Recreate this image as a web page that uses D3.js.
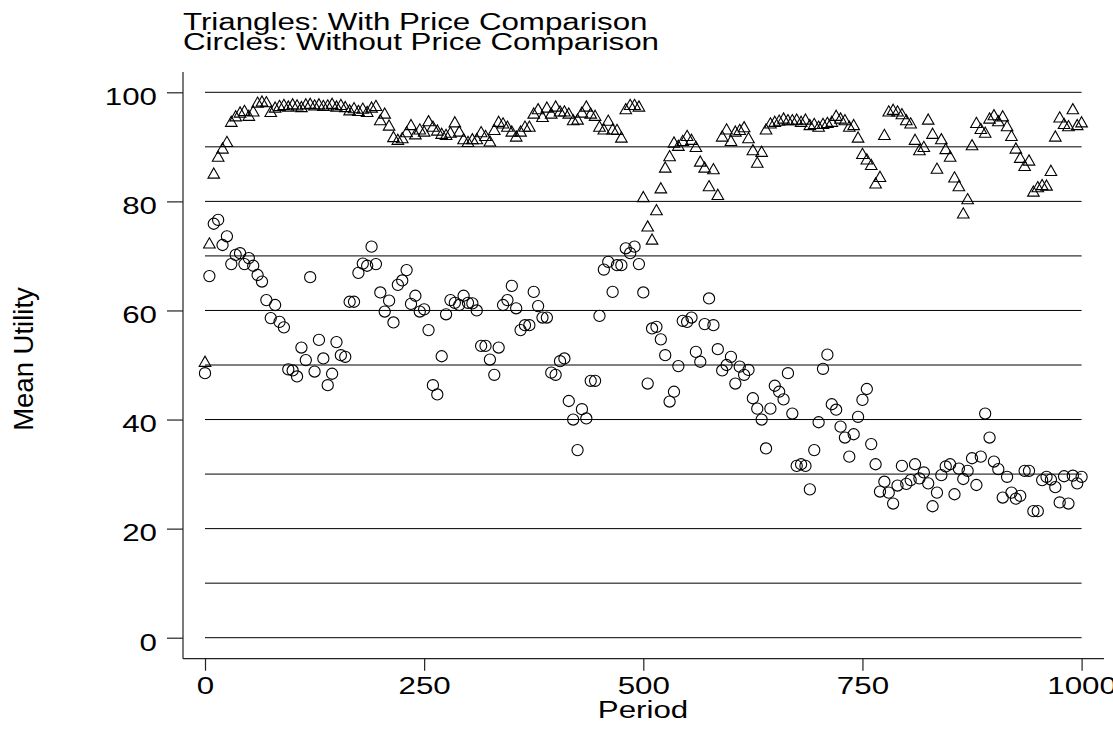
<!DOCTYPE html>
<html>
<head>
<meta charset="utf-8">
<script src="https://cdn.jsdelivr.net/npm/d3@7"></script>
<style>
  body { margin: 0; background: #fff; }
  svg { display: block; font-family: "Liberation Sans", Arial, sans-serif; }
</style>
</head>
<body>
<script>
"use strict";

// one observation every 5 periods
const periods = d3.range(0, 1001, 5);

// triangles
const withComparison = [
  50.6, 72.3, 85.1, 88.2, 89.7, 90.9, 94.6, 95.6, 96.3, 96.6,
  95.7, 96.5, 98.1, 98.3, 98.2, 96.4, 97.2, 97.5, 97.7, 97.4,
  97.8, 97.6, 97.3, 97.8, 97.9, 97.6, 97.8, 97.5, 97.6, 97.9,
  97.4, 97.7, 97.3, 96.7, 97.1, 96.6, 97.0, 96.4, 97.2, 97.5,
  94.9, 96.1, 93.9, 91.8, 91.3, 91.6, 92.7, 94.0, 92.3, 93.2,
  92.8, 94.7, 93.7, 93.0, 92.4, 92.2, 92.6, 94.5, 92.8, 91.4,
  90.9, 91.4, 91.4, 92.7, 92.0, 91.0, 93.1, 94.6, 94.3, 93.7,
  92.8, 91.9, 92.8, 93.7, 93.7, 96.1, 96.9, 95.5, 97.2, 96.1,
  97.4, 96.5, 96.5, 96.1, 94.9, 95.0, 96.3, 97.4, 96.1, 95.7,
  93.7, 93.2, 94.8, 93.2, 93.1, 91.7, 96.9, 97.7, 97.7, 97.4,
  80.8, 75.4, 73.0, 78.4, 82.4, 86.2, 88.3, 90.8, 90.2, 91.1,
  92.0, 91.3, 90.0, 87.3, 86.2, 82.8, 85.9, 81.2, 91.9, 93.2,
  91.1, 92.8, 93.1, 93.6, 91.6, 89.4, 87.1, 89.1, 93.2, 94.3,
  94.6, 94.8, 95.2, 94.9, 94.9, 95.0, 94.6, 95.0, 94.0, 94.2,
  93.7, 94.2, 94.4, 94.6, 95.7, 95.2, 94.9, 93.7, 94.0, 91.7,
  88.7, 87.7, 86.7, 83.3, 84.5, 92.2, 96.5, 96.8, 96.5, 96.0,
  94.9, 94.3, 91.3, 89.4, 90.0, 95.0, 92.4, 86.0, 91.4, 89.6,
  88.2, 84.4, 82.8, 77.8, 80.4, 90.3, 94.4, 93.3, 92.6, 95.2,
  95.8, 94.7, 95.6, 93.8, 92.0, 89.7, 88.0, 86.5, 87.5, 81.8,
  82.6, 83.0, 82.9, 85.6, 91.9, 95.4, 94.2, 93.8, 96.9, 94.0,
  94.5
];

// circles
const withoutComparison = [
  48.5, 66.3, 75.9, 76.6, 72.0, 73.6, 68.5, 70.2, 70.5, 68.5,
  69.6, 68.2, 66.5, 65.3, 61.9, 58.6, 61.0, 57.9, 56.9, 49.2,
  49.0, 47.9, 53.2, 50.9, 66.1, 48.8, 54.6, 51.2, 46.3, 48.4,
  54.2, 51.8, 51.5, 61.6, 61.6, 66.9, 68.6, 68.2, 71.7, 68.5,
  63.3, 59.8, 61.8, 57.8, 64.7, 65.5, 67.4, 61.2, 62.7, 59.8,
  60.2, 56.4, 46.3, 44.6, 51.6, 59.3, 61.9, 61.4, 61.0, 62.7,
  61.4, 61.3, 60.0, 53.5, 53.5, 51.0, 48.2, 53.2, 61.0, 61.9,
  64.5, 60.4, 56.4, 57.3, 57.3, 63.4, 60.8, 58.7, 58.7, 48.6,
  48.2, 50.7, 51.2, 43.4, 40.0, 34.4, 41.9, 40.2, 47.1, 47.1,
  59.0, 67.5, 68.9, 63.4, 68.3, 68.3, 71.4, 70.5, 71.7, 68.5,
  63.3, 46.6, 56.7, 57.0, 54.7, 51.8, 43.3, 45.1, 49.8, 58.1,
  57.9, 58.7, 52.4, 50.6, 57.5, 62.2, 57.3, 52.9, 49.0, 50.0,
  51.5, 46.6, 49.7, 48.2, 49.1, 43.9, 42.0, 40.0, 34.7, 42.0,
  46.2, 45.1, 43.7, 48.5, 41.1, 31.5, 31.8, 31.5, 27.2, 34.4,
  39.5, 49.3, 51.9, 42.8, 41.8, 38.7, 36.7, 33.2, 37.3, 40.5,
  43.6, 45.6, 35.5, 31.8, 26.8, 28.6, 26.6, 24.6, 27.9, 31.5,
  28.2, 28.9, 31.8, 29.2, 30.3, 28.3, 24.1, 26.6, 29.8, 31.4,
  31.8, 26.3, 31.0, 29.1, 30.6, 32.9, 28.0, 33.2, 41.1, 36.7,
  32.3, 30.9, 25.7, 29.5, 26.6, 25.5, 26.0, 30.6, 30.6, 23.2,
  23.2, 28.9, 29.5, 29.0, 27.6, 24.8, 29.6, 24.6, 29.7, 28.3,
  29.5
];

const xTicks = [0, 250, 500, 750, 1000];
const yTicks = [0, 20, 40, 60, 80, 100];
const gridValues = [0, 10, 20, 30, 40, 50, 60, 70, 80, 90, 100];
const titleLines = ["Triangles: With Price Comparison", "Circles: Without Price Comparison"];

// horizontal lettering in the original is drawn wider than normal
const stretch = 1.36;

const svg = d3.select("body")
  .append("svg")
  .attr("width", 1113)
  .attr("height", 730);

svg.append("rect")
  .attr("width", 1113)
  .attr("height", 730)
  .attr("fill", "#fff");

const x = d3.scaleLinear()
  .domain([0, 1000])
  .range([205, 1081.6]);

const y = d3.scaleLinear()
  .domain([0, 100])
  .range([637.7, 92.3]);

// horizontal grid
svg.append("g")
  .selectAll("line")
  .data(gridValues)
  .join("line")
  .attr("x1", x(0))
  .attr("x2", x(1000))
  .attr("y1", d => y(d))
  .attr("y2", d => y(d))
  .attr("stroke", "#000")
  .attr("stroke-width", 1);

// axis frame lines
svg.append("line")
  .attr("x1", 183).attr("x2", 183)
  .attr("y1", 72).attr("y2", 658.7)
  .attr("stroke", "#222")
  .attr("stroke-width", 1.2);

svg.append("line")
  .attr("x1", 183).attr("x2", 1104)
  .attr("y1", 658.7).attr("y2", 658.7)
  .attr("stroke", "#222")
  .attr("stroke-width", 1.2);

const yAxis = d3.axisLeft(y)
  .tickValues(yTicks)
  .tickSize(16)
  .tickFormat(d3.format("d"));

const gy = svg.append("g")
  .attr("transform", "translate(183,0)")
  .call(yAxis);

gy.attr("font-size", null).attr("font-family", null);
gy.select(".domain").remove();
gy.selectAll(".tick line")
  .attr("stroke", "#222")
  .attr("stroke-width", 1.2);
gy.selectAll(".tick text")
  .attr("x", -26 / stretch)
  .attr("dy", 12.3)
  .attr("transform", `scale(${stretch},1)`)
  .attr("fill", "#000")
  .style("font-size", "23px");

const xAxis = d3.axisBottom(x)
  .tickValues(xTicks)
  .tickSize(12)
  .tickFormat(d3.format("d"));

const gx = svg.append("g")
  .attr("transform", "translate(0,658.7)")
  .call(xAxis);

gx.attr("font-size", null).attr("font-family", null);
gx.select(".domain").remove();
gx.selectAll(".tick line")
  .attr("stroke", "#222")
  .attr("stroke-width", 1.2);
gx.selectAll(".tick text")
  .attr("y", 35.3)
  .attr("dy", 0)
  .attr("transform", `scale(${stretch},1)`)
  .attr("fill", "#000")
  .style("font-size", "23px");

// titles
svg.selectAll(".title")
  .data(titleLines)
  .join("text")
  .attr("class", "title")
  .attr("transform", (d, i) => `translate(183,${30 + i * 20}) scale(${stretch},1)`)
  .style("font-size", "23px")
  .text(d => d);

svg.append("text")
  .attr("transform", `translate(643,718) scale(${stretch},1)`)
  .attr("text-anchor", "middle")
  .style("font-size", "23px")
  .text("Period");

svg.append("text")
  .attr("transform", "translate(33,359) rotate(-90)")
  .attr("text-anchor", "middle")
  .style("font-size", "27.5px")
  .text("Mean Utility");

// markers
const triangleData = periods.map((p, i) => ({ p: p, v: withComparison[i] }));
const circleData = periods.map((p, i) => ({ p: p, v: withoutComparison[i] }));

svg.append("g")
  .selectAll("circle")
  .data(circleData)
  .join("circle")
  .attr("cx", d => x(d.p))
  .attr("cy", d => y(d.v))
  .attr("r", 5.6)
  .attr("fill", "none")
  .attr("stroke", "#000")
  .attr("stroke-width", 1.1);

svg.append("g")
  .selectAll("path")
  .data(triangleData)
  .join("path")
  .attr("d", "M0,-5.6L5.8,4.6L-5.8,4.6Z")
  .attr("transform", d => `translate(${x(d.p)},${y(d.v)})`)
  .attr("fill", "none")
  .attr("stroke", "#000")
  .attr("stroke-width", 1.1);
</script>
</body>
</html>
